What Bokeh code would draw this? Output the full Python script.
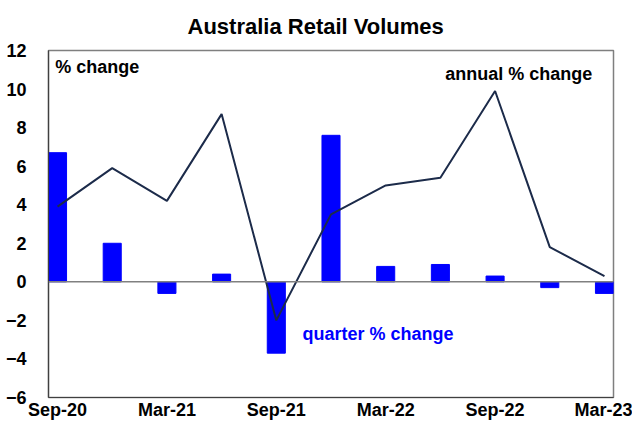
from bokeh.plotting import figure
from bokeh.models import Range1d, FixedTicker, Label, Span
from bokeh.embed import file_html
from bokeh.resources import INLINE

quarters = ["Sep-20", "Dec-20", "Mar-21", "Jun-21", "Sep-21", "Dec-21",
            "Mar-22", "Jun-22", "Sep-22", "Dec-22", "Mar-23"]
quarter_change = [6.7, 2.0, -0.6, 0.4, -3.7, 7.6, 0.8, 0.9, 0.3, -0.3, -0.6]
annual_change = [3.9, 5.9, 4.2, 8.7, -2.0, 3.5, 5.0, 5.4, 9.9, 1.8, 0.3]
y_ticks = [-6, -4, -2, 0, 2, 4, 6, 8, 10, 12]
x_tick_labels = ["Sep-20", "Mar-21", "Sep-21", "Mar-22", "Sep-22", "Mar-23"]

FONT = "Liberation Sans"
idx = list(range(len(quarters)))
x_tick_pos = [quarters.index(q) for q in x_tick_labels]

p = figure(width=632, height=423, output_backend="svg", toolbar_location=None,
           x_range=Range1d(-0.165, len(quarters) - 1 + 0.165),
           y_range=Range1d(-6, 12),
           min_border_left=48, min_border_right=19, min_border_top=49,
           min_border_bottom=26)
p.background_fill_color = "white"
p.border_fill_color = "white"
p.outline_line_color = "#7f7f7f"
p.outline_line_width = 1.5
p.xgrid.visible = False
p.ygrid.visible = False

# title
p.title.text = "Australia Retail Volumes"
p.title.align = "left"
p.title.offset = 139
p.title.standoff = 23
p.title.text_font = FONT
p.title.text_font_style = "bold"
p.title.text_font_size = "22px"
p.title.text_color = "black"

# axes
p.yaxis.ticker = FixedTicker(ticks=y_ticks)
p.xaxis.ticker = FixedTicker(ticks=x_tick_pos)
p.xaxis.major_label_overrides = {i: quarters[i] for i in x_tick_pos}
for ax in (p.xaxis, p.yaxis):
    ax.major_tick_line_color = None
    ax.minor_tick_line_color = None
    ax.axis_line_color = "#404040"
    ax.axis_line_width = 1.2
    ax.major_label_text_font = FONT
    ax.major_label_text_font_style = "bold"
    ax.major_label_text_font_size = "18px"
    ax.major_label_text_color = "black"
p.yaxis.major_label_standoff = 16
p.xaxis.major_label_standoff = -4

# zero line
p.add_layout(Span(location=0, dimension="width", line_color="#808080", line_width=1.5))

# bars and line
p.vbar(x=idx, top=quarter_change, width=0.33, color="#0000FF")
p.line(idx, annual_change, line_color="#1c2b4a", line_width=2)

# texts
p.add_layout(Label(x=-0.04, y=11.17, text="% change", text_align="left",
                   text_baseline="middle", text_font=FONT, text_font_style="bold",
                   text_font_size="18px", text_color="black"))
p.add_layout(Label(x=7.09, y=10.76, text="annual % change", text_align="left",
                   text_baseline="middle", text_font=FONT, text_font_style="bold",
                   text_font_size="18px", text_color="black"))
p.add_layout(Label(x=4.48, y=-2.69, text="quarter % change", text_align="left",
                   text_baseline="middle", text_font=FONT, text_font_style="bold",
                   text_font_size="18px", text_color="#0000FF"))

open("out.html", "w").write(file_html(p, INLINE))
